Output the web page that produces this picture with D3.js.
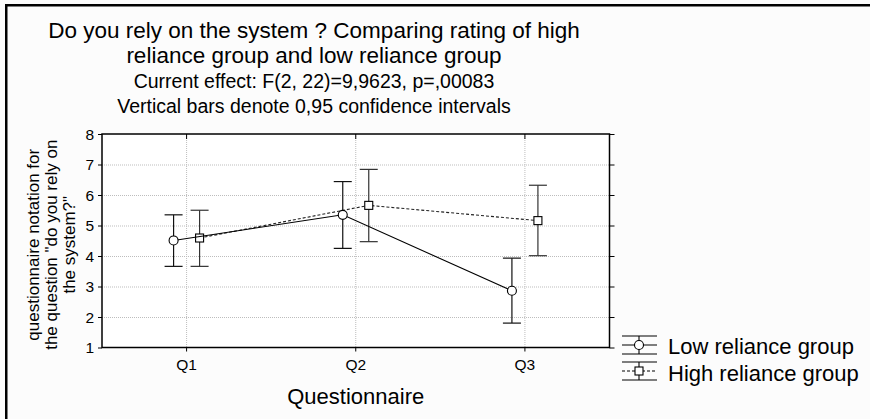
<!DOCTYPE html>
<html>
<head>
<meta charset="utf-8">
<script src="https://cdn.jsdelivr.net/npm/d3@7"></script>
<style>
  html, body { margin: 0; padding: 0; background: #fcfcfc; overflow: hidden; }
  svg { display: block; }
  svg text { font-family: "Liberation Sans", Arial, sans-serif; fill: #000; }
</style>
</head>
<body>
<div id="chart"></div>
<script>
var categories = ["Q1", "Q2", "Q3"];

var lowMean  = [4.51, 5.35, 2.86];
var lowUpper = [5.35, 6.44, 3.93];
var lowLower = [3.66, 4.25, 1.80];

var highMean  = [4.59, 5.66, 5.16];
var highUpper = [5.50, 6.84, 6.32];
var highLower = [3.66, 4.47, 4.01];

var yTicks = [1, 2, 3, 4, 5, 6, 7, 8];

var titleLines = [
    "Do you rely on the system ? Comparing rating of high",
    "reliance group and low reliance group"
];
var subLines = [
    "Current effect: F(2, 22)=9,9623, p=,00083",
    "Vertical bars denote 0,95 confidence intervals"
];
var yLabelLines = [
    "questionnaire notation for",
    "the question \"do you rely on",
    "the system?\""
];
var seriesNames = ["Low reliance group", "High reliance group"];

var width = 870,
    height = 419;

var margin = { top: 134, left: 102, bottom: 71.5, right: 260.5 };

var svg = d3.select("#chart")
    .append("svg")
    .attr("width", width)
    .attr("height", height)
    .attr("viewBox", "0 0 " + width + " " + height);

svg.append("rect")
    .attr("width", width)
    .attr("height", height)
    .attr("fill", "#fcfcfc");

// outer frame: only the left and top edges are in the picture
svg.append("path")
    .attr("d", "M6.25," + (height + 5) + "V5.25H" + (width + 5))
    .attr("fill", "none")
    .attr("stroke", "#000")
    .attr("stroke-width", 2.5);

var x = d3.scaleBand()
    .domain(categories)
    .range([margin.left, width - margin.right]);

var y = d3.scaleLinear()
    .domain([1, 8])
    .range([height - margin.bottom, margin.top]);

var xc = function (c) { return x(c) + x.bandwidth() / 2; };
var shift = 13;

// plot background
svg.append("rect")
    .attr("x", x.range()[0])
    .attr("y", y(8))
    .attr("width", x.range()[1] - x.range()[0])
    .attr("height", y(1) - y(8))
    .attr("fill", "#fff");

// grid
var grid = svg.append("g")
    .attr("stroke", "#bdbdbd")
    .attr("stroke-width", 1)
    .attr("stroke-dasharray", "1,1");

grid.selectAll("line.h")
    .data(yTicks.slice(1, -1))
    .enter().append("line")
    .attr("x1", x.range()[0])
    .attr("x2", x.range()[1])
    .attr("y1", function (d) { return y(d) + 0.5; })
    .attr("y2", function (d) { return y(d) + 0.5; });

grid.selectAll("line.v")
    .data(categories)
    .enter().append("line")
    .attr("x1", function (d) { return xc(d); })
    .attr("x2", function (d) { return xc(d); })
    .attr("y1", y(8))
    .attr("y2", y(1));

// axes (tick marks from d3.axis, labels placed with the same scales)
var yAxis = d3.axisLeft(y).tickValues(yTicks).tickSize(4).tickFormat("");
var yAxisR = d3.axisLeft(y).tickValues(yTicks).tickSize(-5).tickFormat("");
var xAxis = d3.axisBottom(x).tickSize(4).tickFormat("");
var xAxisT = d3.axisBottom(x).tickSize(5).tickFormat("");

function styleAxis(g) {
    g.select(".domain").remove();
    g.selectAll("line").attr("stroke", "#000");
}

svg.append("g")
    .attr("transform", "translate(" + x.range()[0] + ",0)")
    .call(yAxis)
    .call(styleAxis);

svg.append("g")
    .attr("transform", "translate(" + x.range()[1] + ",0)")
    .call(yAxisR)
    .call(styleAxis);

svg.append("g")
    .attr("transform", "translate(0," + y(1) + ")")
    .call(xAxis)
    .call(styleAxis);

svg.append("g")
    .attr("transform", "translate(0," + y(8) + ")")
    .call(xAxisT)
    .call(styleAxis);

svg.selectAll("text.ytick")
    .data(yTicks)
    .enter().append("text")
    .attr("class", "ytick")
    .attr("x", x.range()[0] - 8)
    .attr("y", function (d) { return y(d); })
    .attr("dy", "0.36em")
    .attr("text-anchor", "end")
    .attr("font-size", 15.5)
    .text(function (d) { return d; });

svg.selectAll("text.xtick")
    .data(categories)
    .enter().append("text")
    .attr("class", "xtick")
    .attr("x", function (d) { return xc(d); })
    .attr("y", y(1) + 22.5)
    .attr("text-anchor", "middle")
    .attr("font-size", 15.5)
    .text(function (d) { return d; });

// plot frame
svg.append("rect")
    .attr("x", x.range()[0])
    .attr("y", y(8))
    .attr("width", x.range()[1] - x.range()[0])
    .attr("height", y(1) - y(8))
    .attr("fill", "none")
    .attr("stroke", "#000")
    .attr("stroke-width", 1.5);

// series
var series = [
    { name: seriesNames[0], mean: lowMean, up: lowUpper, lo: lowLower, dx: -shift, dash: null, color: "#000", bar: "#111" },
    { name: seriesNames[1], mean: highMean, up: highUpper, lo: highLower, dx: shift, dash: "3,2", color: "#222", bar: "#333" }
];

var line = d3.line()
    .x(function (d) { return d.x; })
    .y(function (d) { return d.y; });

var capW = 9;

// draw high first so low line sits on top
series.slice().reverse().forEach(function (s) {
    var pts = categories.map(function (c, i) {
        return { x: xc(c) + s.dx, y: y(s.mean[i]), up: y(s.up[i]), lo: y(s.lo[i]) };
    });
    var g = svg.append("g");

    g.selectAll("line.bar")
        .data(pts)
        .enter().append("line")
        .attr("x1", function (d) { return d.x; })
        .attr("x2", function (d) { return d.x; })
        .attr("y1", function (d) { return d.up; })
        .attr("y2", function (d) { return d.lo; })
        .attr("stroke", s.bar)
        .attr("stroke-width", 1.2);

    ["up", "lo"].forEach(function (k) {
        g.selectAll("line.cap" + k)
            .data(pts)
            .enter().append("line")
            .attr("x1", function (d) { return d.x - capW; })
            .attr("x2", function (d) { return d.x + capW; })
            .attr("y1", function (d) { return d[k]; })
            .attr("y2", function (d) { return d[k]; })
            .attr("stroke", s.bar)
            .attr("stroke-width", 1.2);
    });

    g.append("path")
        .datum(pts)
        .attr("d", line)
        .attr("fill", "none")
        .attr("stroke", s.color)
        .attr("stroke-width", 1.1)
        .attr("stroke-dasharray", s.dash);

    if (s.dx < 0) {
        g.selectAll("circle")
            .data(pts)
            .enter().append("circle")
            .attr("cx", function (d) { return d.x; })
            .attr("cy", function (d) { return d.y; })
            .attr("r", 4.5)
            .attr("fill", "#fff")
            .attr("stroke", "#000")
            .attr("stroke-width", 1.1);
    } else {
        g.selectAll("rect")
            .data(pts)
            .enter().append("rect")
            .attr("x", function (d) { return d.x - 4; })
            .attr("y", function (d) { return d.y - 4; })
            .attr("width", 8)
            .attr("height", 8)
            .attr("fill", "#fff")
            .attr("stroke", "#000")
            .attr("stroke-width", 1.1);
    }
});

// titles
var tx = 314;
svg.selectAll("text.title")
    .data(titleLines)
    .enter().append("text")
    .attr("x", tx)
    .attr("y", function (d, i) { return 38 + i * 25; })
    .attr("text-anchor", "middle")
    .attr("font-size", 22.5)
    .text(function (d) { return d; });

svg.selectAll("text.sub")
    .data(subLines)
    .enter().append("text")
    .attr("x", tx)
    .attr("y", function (d, i) { return 88 + i * 25; })
    .attr("text-anchor", "middle")
    .attr("font-size", 19.5)
    .text(function (d) { return d; });

// y label
var ymid = (y(1) + y(8)) / 2 + 4;
svg.selectAll("text.ylab")
    .data(yLabelLines)
    .enter().append("text")
    .attr("transform", function (d, i) {
        return "translate(" + (38.5 + i * 18) + "," + ymid + ") rotate(-90)";
    })
    .attr("text-anchor", "middle")
    .attr("font-size", 17)
    .text(function (d) { return d; });

// x label
svg.append("text")
    .attr("x", xc("Q2"))
    .attr("y", 404)
    .attr("text-anchor", "middle")
    .attr("font-size", 22)
    .text("Questionnaire");

// legend
var lx = 622, lw = 35, lcx = lx + 17;
var legend = svg.append("g");
series.forEach(function (s, i) {
    var top = 336 + i * 26, mid = top + 9, bot = top + 18;
    var g = legend.append("g");
    g.append("line").attr("x1", lcx).attr("x2", lcx).attr("y1", top).attr("y2", bot)
        .attr("stroke", "#000").attr("stroke-width", 1.1);
    [top, bot].forEach(function (yy) {
        g.append("line").attr("x1", lx).attr("x2", lx + lw).attr("y1", yy).attr("y2", yy)
            .attr("stroke", "#000").attr("stroke-width", 1.1);
    });
    g.append("line").attr("x1", lx).attr("x2", lx + lw).attr("y1", mid).attr("y2", mid)
        .attr("stroke", "#000").attr("stroke-width", 1.1)
        .attr("stroke-dasharray", s.dash);
    if (i === 0) {
        g.append("circle").attr("cx", lcx).attr("cy", mid).attr("r", 4.5)
            .attr("fill", "#fff").attr("stroke", "#000").attr("stroke-width", 1.1);
    } else {
        g.append("rect").attr("x", lcx - 4).attr("y", mid - 4).attr("width", 8).attr("height", 8)
            .attr("fill", "#fff").attr("stroke", "#000").attr("stroke-width", 1.1);
    }
    g.append("text")
        .attr("x", 668)
        .attr("y", 354 + i * 27)
        .attr("font-size", 22)
        .text(s.name);
});
</script>
</body>
</html>
